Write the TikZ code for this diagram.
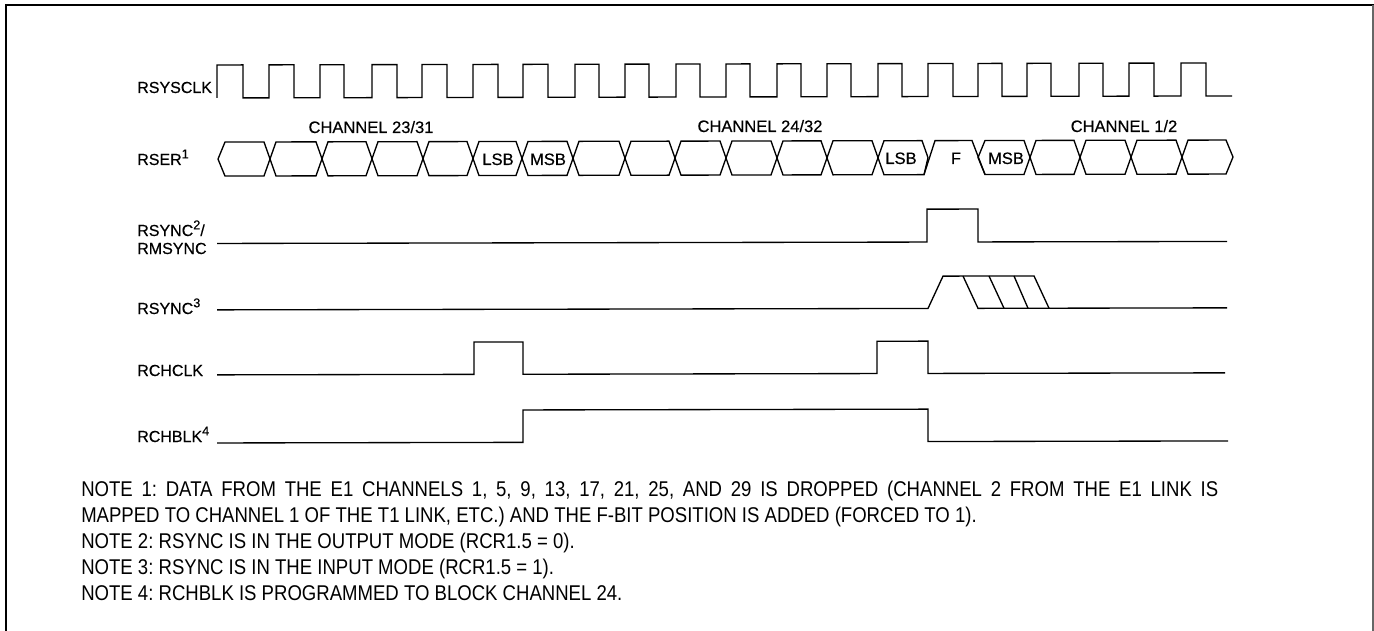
\documentclass[tikz,border=0pt]{standalone}
\usepackage{fontspec}
\setmainfont{Liberation Sans}
\newfontfamily\notefont[FakeStretch=0.87]{Liberation Sans}
\newfontfamily\scanfont[FakeBold=0.4]{Liberation Sans}
\newcommand\supnum[1]{\raisebox{0.42em}{\fontsize{9.5}{9.5}\selectfont #1}}
\tikzset{
  wave/.style={black,line width=1pt,line join=miter},
  siglabel/.style={inner sep=0pt,anchor=base west,font=\scanfont\fontsize{12}{13}\selectfont},
  buslabel/.style={inner sep=0pt,anchor=base,font=\scanfont\fontsize{12.4}{13}\selectfont},
  notetext/.style={inner sep=0pt,anchor=base west,font=\notefont\fontsize{16}{18}\selectfont},
}
\begin{document}
\begin{tikzpicture}[x=0.75pt,y=-0.75pt]
  \pgfmathsetmacro\clktop{65.4}
  \pgfmathsetmacro\clkbot{98.4}
  \pgfmathsetmacro\btop{142.5}
  \pgfmathsetmacro\bmid{159.5}
  \pgfmathsetmacro\bbot{176.5}
  \useasboundingbox (0,0) rectangle (1374,631);

% frame
  \draw[black,line width=1.8pt] (6,631) -- (6,5) -- (1374,5);
  \draw[black!60,line width=0.8pt] (1373,5) -- (1373,631);

% signal names
  \node[siglabel] (rsysclk) at (137,93) {RSYSCLK};
  \node[siglabel] (rser) at (137,165) {RSER\supnum{1}};
  \node[siglabel] (rsync) at (137,236) {RSYNC\supnum{2}/};
  \node[siglabel] (rmsync) at (137,254) {RMSYNC};
  \node[siglabel] (rsyncin) at (137,314) {RSYNC\supnum{3}};
  \node[siglabel] (rchclk) at (137,376) {RCHCLK};
  \node[siglabel] (rchblk) at (137,442) {RCHBLK\supnum{4}};

% bus and pulse names
  \node[buslabel] (ch23) at (371,133) {CHANNEL 23/31};
  \node[buslabel] (lsba) at (498,165) {LSB};
  \node[buslabel] (msba) at (548,165) {MSB};
  \node[buslabel] (ch24) at (760,132) {CHANNEL 24/32};
  \node[buslabel] (lsbb) at (901,164) {LSB};
  \node[buslabel] (fbit) at (956,164) {F};
  \node[buslabel] (msbb) at (1006,164) {MSB};
  \node[buslabel] (ch1) at (1124,132) {CHANNEL 1/2};

% the scan is tilted by a hair, so all traces are too
  \begin{scope}[yslant=0.002]

% RSYSCLK
  \draw[wave] (217,\clkbot) -- (217,\clktop) -- (243,\clktop) -- (243,\clkbot) -- (269,\clkbot) -- (269,\clktop)
    -- (294,\clktop) -- (294,\clkbot) -- (320,\clkbot) -- (320,\clktop) -- (344,\clktop) -- (344,\clkbot)
    -- (372,\clkbot) -- (372,\clktop) -- (397,\clktop) -- (397,\clkbot) -- (422,\clkbot) -- (422,\clktop)
    -- (447,\clktop) -- (447,\clkbot) -- (473,\clkbot) -- (473,\clktop) -- (498,\clktop) -- (498,\clkbot)
    -- (523,\clkbot) -- (523,\clktop) -- (548,\clktop) -- (548,\clkbot) -- (575,\clkbot) -- (575,\clktop)
    -- (599,\clktop) -- (599,\clkbot) -- (625,\clkbot) -- (625,\clktop) -- (649,\clktop) -- (649,\clkbot)
    -- (676,\clkbot) -- (676,\clktop) -- (700,\clktop) -- (700,\clkbot) -- (726,\clkbot) -- (726,\clktop)
    -- (750,\clktop) -- (750,\clkbot) -- (777,\clkbot) -- (777,\clktop) -- (801,\clktop) -- (801,\clkbot)
    -- (827,\clkbot) -- (827,\clktop) -- (851,\clktop) -- (851,\clkbot) -- (878,\clkbot) -- (878,\clktop)
    -- (902,\clktop) -- (902,\clkbot) -- (928,\clkbot) -- (928,\clktop) -- (953,\clktop) -- (953,\clkbot)
    -- (978,\clkbot) -- (978,\clktop) -- (1002,\clktop) -- (1002,\clkbot) -- (1027,\clkbot) -- (1027,\clktop)
    -- (1051,\clktop) -- (1051,\clkbot) -- (1079,\clkbot) -- (1079,\clktop) -- (1103,\clktop) -- (1103,\clkbot)
    -- (1129,\clkbot) -- (1129,\clktop) -- (1154,\clktop) -- (1154,\clkbot) -- (1181,\clkbot) -- (1181,\clktop)
    -- (1206,\clktop) -- (1206,\clkbot) -- (1232,\clkbot);

% RSER, channel 23/31
  \draw[wave] (218,\bmid) -- (225,\btop) -- (264,\btop) -- (270,\bmid) -- (264,\bbot) -- (225,\bbot) -- cycle;
  \draw[wave] (270,\bmid) -- (276,\btop) -- (316,\btop) -- (322,\bmid) -- (316,\bbot) -- (276,\bbot) -- cycle;
  \draw[wave] (322,\bmid) -- (328,\btop) -- (366,\btop) -- (372,\bmid) -- (366,\bbot) -- (328,\bbot) -- cycle;
  \draw[wave] (372,\bmid) -- (378,\btop) -- (417,\btop) -- (423,\bmid) -- (417,\bbot) -- (378,\bbot) -- cycle;
  \draw[wave] (423,\bmid) -- (429,\btop) -- (467,\btop) -- (473,\bmid) -- (467,\bbot) -- (429,\bbot) -- cycle;
  \draw[wave] (473,\bmid) -- (479,\btop) -- (516,\btop) -- (522,\bmid) -- (516,\bbot) -- (479,\bbot) -- cycle;

% RSER, channel 24/32
  \draw[wave] (522,\bmid) -- (528,\btop) -- (567,\btop) -- (573,\bmid) -- (567,\bbot) -- (528,\bbot) -- cycle;
  \draw[wave] (573,\bmid) -- (579,\btop) -- (619,\btop) -- (625,\bmid) -- (619,\bbot) -- (579,\bbot) -- cycle;
  \draw[wave] (625,\bmid) -- (631,\btop) -- (669,\btop) -- (675,\bmid) -- (669,\bbot) -- (631,\bbot) -- cycle;
  \draw[wave] (675,\bmid) -- (681,\btop) -- (720,\btop) -- (726,\bmid) -- (720,\bbot) -- (681,\bbot) -- cycle;
  \draw[wave] (726,\bmid) -- (732,\btop) -- (771,\btop) -- (777,\bmid) -- (771,\bbot) -- (732,\bbot) -- cycle;
  \draw[wave] (777,\bmid) -- (783,\btop) -- (821,\btop) -- (827,\bmid) -- (821,\bbot) -- (783,\bbot) -- cycle;
  \draw[wave] (827,\bmid) -- (833,\btop) -- (872,\btop) -- (878,\bmid) -- (872,\bbot) -- (833,\bbot) -- cycle;
  \draw[wave] (878,\bmid) -- (884,\btop) -- (922,\btop) -- (928,\bmid) -- (924,\bbot) -- (884,\bbot) -- cycle;

% F bit
  \draw[wave] (924,\bbot) -- (935,\btop) -- (972,\btop) -- (985,\bbot);

% RSER, channel 1/2
  \draw[wave] (978,\bmid) -- (985,\btop) -- (1024,\btop) -- (1030,\bmid) -- (1024,\bbot) -- (985,\bbot) -- cycle;
  \draw[wave] (1030,\bmid) -- (1036,\btop) -- (1074,\btop) -- (1080,\bmid) -- (1074,\bbot) -- (1036,\bbot) -- cycle;
  \draw[wave] (1080,\bmid) -- (1086,\btop) -- (1125,\btop) -- (1131,\bmid) -- (1125,\bbot) -- (1086,\bbot) -- cycle;
  \draw[wave] (1131,\bmid) -- (1137,\btop) -- (1176,\btop) -- (1182,\bmid) -- (1176,\bbot) -- (1137,\bbot) -- cycle;
  \draw[wave] (1182,\bmid) -- (1188,\btop) -- (1226,\btop) -- (1233,\bmid) -- (1226,\bbot) -- (1188,\bbot) -- cycle;

% RSYNC/RMSYNC
  \draw[wave] (217,243.9) -- (927,243.9) -- (927,211) -- (978,211) -- (978,243.9) -- (1227,243.9);

% RSYNC, input mode
  \draw[wave] (217,310.3) -- (928,310.3) -- (943,278) -- (1034,278) -- (1049,310.3);
  \draw[wave] (963,278) -- (978,310.3) -- (1227,310.3);
  \draw[wave] (989,278) -- (1004,310.3);
  \draw[wave] (1014,278) -- (1028,310.3);

% RCHCLK
  \draw[wave] (217,375.3) -- (474,375.3) -- (474,343) -- (523,343) -- (523,375.3) -- (877,375.3) -- (877,343)
    -- (928,343) -- (928,375.3) -- (1225,375.3);

% RCHBLK
  \draw[wave] (217,443.4) -- (523,443.4) -- (523,411) -- (928,411) -- (928,443.4) -- (1228,443.4);
  \end{scope}

% notes
  \frenchspacing
  \node[notetext] (notea) at (81,496) {\makebox[852.75pt][s]{NOTE 1: DATA FROM THE E1 CHANNELS 1, 5, 9, 13, 17, 21, 25, AND 29 IS DROPPED (CHANNEL 2 FROM THE E1 LINK IS}};
  \node[notetext] (noteb) at (81,522) {MAPPED TO CHANNEL 1 OF THE T1 LINK, ETC.) AND THE F-BIT POSITION IS ADDED (FORCED TO 1).};
  \node[notetext] (notec) at (81,548) {NOTE 2: RSYNC IS IN THE OUTPUT MODE (RCR1.5 = 0).};
  \node[notetext] (noted) at (81,574) {NOTE 3: RSYNC IS IN THE INPUT MODE (RCR1.5 = 1).};
  \node[notetext] (notee) at (81,600) {NOTE 4: RCHBLK IS PROGRAMMED TO BLOCK CHANNEL 24.};
\end{tikzpicture}
\end{document}
